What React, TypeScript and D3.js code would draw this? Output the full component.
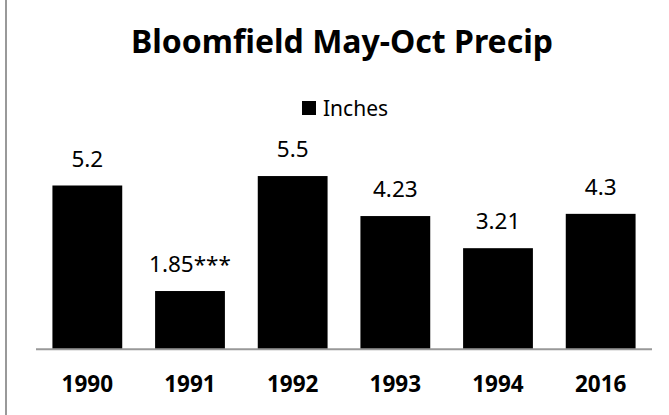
import React from "react";
import * as d3 from "d3";

const categories = ["1990", "1991", "1992", "1993", "1994", "2016"];
const values = [5.2, 1.85, 5.5, 4.23, 3.21, 4.3];
const valueLabels = ["5.2", "1.85***", "5.5", "4.23", "3.21", "4.3"];
const seriesName = "Inches";
const title = "Bloomfield May-Oct Precip";

const W = 669;
const H = 415;
const FONT = "'Noto Sans', 'DejaVu Sans', sans-serif";

export default function App() {
  const x = d3
    .scaleBand<string>()
    .domain(categories)
    .range([36, 652])
    .paddingInner(0.32)
    .paddingOuter(0.16);
  const y = d3.scaleLinear().domain([0, 6]).range([349.3, 160.3]);

  return (
    <svg
      width={W}
      height={H}
      style={{ position: "absolute", left: 0, top: 0, background: "#fff" }}
    >
      <rect x={0} y={0} width={W} height={H} fill="#fff" />
      <rect x={5} y={0} width={2} height={H} fill="#999" />
      <text
        x={342}
        y={53}
        textAnchor="middle"
        fontFamily={FONT}
        fontWeight="bold"
        fontSize={32}
        fill="#000"
      >
        {title}
      </text>
      <g>
        <rect x={302} y={101} width={14} height={14} fill="#000" />
        <text x={323} y={116} fontFamily={FONT} fontSize={21} fill="#000">
          {seriesName}
        </text>
      </g>
      {categories.map((c, i) => (
        <g key={c}>
          <rect
            x={x(c)}
            y={y(values[i])}
            width={x.bandwidth()}
            height={y(0) - y(values[i])}
            fill="#000"
          />
          <text
            x={(x(c) as number) + x.bandwidth() / 2}
            y={y(values[i]) - 19}
            textAnchor="middle"
            fontFamily={FONT}
            fontSize={22.5}
            fill="#000"
          >
            {valueLabels[i]}
          </text>
          <text
            x={(x(c) as number) + x.bandwidth() / 2}
            y={392}
            textAnchor="middle"
            fontFamily={FONT}
            fontWeight="bold"
            fontSize={22.5}
            fill="#000"
          >
            {c}
          </text>
        </g>
      ))}
      <line x1={36} x2={652} y1={349.3} y2={349.3} stroke="#999" strokeWidth={2} />
    </svg>
  );
}
